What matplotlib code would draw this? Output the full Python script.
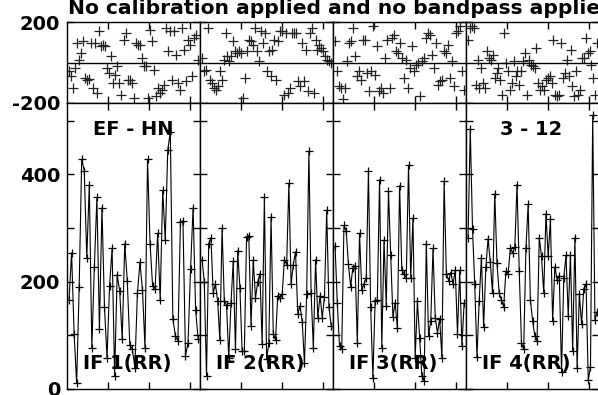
import numpy as np
import matplotlib
matplotlib.use("Agg")
import matplotlib.pyplot as plt

# textos
title = "No calibration applied and no bandpass applied"
baseline = "EF - HN"
time_range = "3 - 12"
if_labels = ["IF 1(RR)", "IF 2(RR)", "IF 3(RR)", "IF 4(RR)"]

# amplitud por canal
amp_if1 = [166, 254, 103, 11, 191, 428, 407, 245, 381, 77, 228, 357, 112, 338, 152, 58,
           192, 262, 24, 213, 183, 93, 271, 202, 82, 74, 40, 178, 236, 185, 77, 428,
           271, 192, 187, 290, 166, 370, 277, 446, 479, 131, 99, 90, 311, 313, 62, 86,
           224, 338, 147, 93]
amp_if2 = [241, 200, 24, 271, 282, 179, 196, 164, 91, 300, 164, 157, 58, 160, 238, 74,
           258, 189, 70, 70, 284, 286, 118, 241, 170, 199, 215, 84, 357, 56, 86, 320,
           103, 91, 174, 170, 177, 241, 232, 383, 196, 232, 256, 140, 155, 125, 49, 177,
           443, 178, 77, 241, 133, 174, 133, 172, 333, 153, 118]
amp_if3 = [267, 161, 80, 74, 305, 295, 233, 191, 226, 230, 86, 290, 185, 196, 207, 406,
           152, 21, 164, 166, 390, 77, 278, 155, 369, 250, 135, 161, 113, 379, 221, 215,
           207, 417, 207, 318, 58, 164, 95, 24, 15, 271, 99, 127, 262, 133, 105, 131,
           58, 387, 215, 202, 217, 196, 221, 103, 221, 80, 161]
amp_if4 = [282, 484, 299, 196, 60, 164, 245, 116, 228, 280, 236, 178, 364, 234, 178, 166,
           153, 219, 215, 262, 254, 264, 381, 219, 86, 74, 262, 344, 166, 127, 99, 90,
           282, 247, 178, 327, 247, 316, 127, 228, 204, 211, 32, 207, 249, 136, 250, 71,
           282, 39, 177, 121, 187, 196, 16, 41, 510, 129, 144]

# fase por canal en grados
phase_if1 = [-44, -68, -126, -27, 96, 14, 47, 105, -77, -85, -80, 96, -126, 96, -151, 154,
             80, 88, 80, -27, -52, 31, -101, -60, -19, -101, -159, 113, 146, -85, -85, -101,
             -175, 96, 88, 88, 22, -19, -19, -175, 162, 105, -36, -167, -126, -151, -134, -110,
             170, 55, 154, -85, 154, 39, -101, -134, 170, 63, -93, 113, 88, -68, 121, 137, 14]
phase_if2 = [22, -44, -36, 170, -85, -101, -126, -134, -118, -44, -85, 14, 146, 31, 6, 31,
             105, 55, 47, 55, 47, -175, -77, 55, 113, 105, 88, 170, 55, 6, 154, 96,
             146, -44, 55, -68, 63, 113, -85, 105, 154, 154, -159, 146, -151, -126, 146, 146,
             146, -93, -118, 96, -93, 63, -142, 146, 170, -151, 113, 63, 88, 72, 55, 31, 14, 6, -2]
phase_if3 = [105, -44, -118, -126, -178, -126, 6, 96, 105, 170, 31, -68, -44, -85, 113, 113,
             -52, -142, -44, 179, -60, 80, -142, -126, -151, 22, 113, -126, 121, 137, 55, 47,
             96, 22, -77, 14, -126, -27, 80, -44, -11, -2, -167, 6, 22, 121, 146, 137,
             39, -27, 96, -110, -93, -85, 55, 47, 88, -77, 6, -118, 146, 154, 178, -44, -134]
phase_if4 = [113, 170, 179, 170, -110, 14, -126, -27, -101, -126, 55, 22, 14, 39, -77, -52,
             -27, -85, -159, 146, -2, -44, -134, -101, 6, -68, -44, -110, -44, 6, 47, -159,
             14, -11, -19, -27, 72, -101, -134, -118, -134, -85, -77, -68, -101, 113, -159, -167,
             -159, 96, -77, -52, 14, -68, 63, -118, -167, -44, -159, -134, 22, 22, 121, 47,
             55, -11, -77, -159, 96]

amps = [amp_if1, amp_if2, amp_if3, amp_if4]
phases = [phase_if1, phase_if2, phase_if3, phase_if4]

plt.rcParams['font.family'] = 'DejaVu Sans'
plt.rcParams['font.weight'] = 'bold'
plt.rcParams['font.size'] = 14

fig = plt.figure(figsize=(5.98, 3.95), dpi=100)

W, H = 598.0, 395.0
x0 = 67 / W
pw = 133 / W
tick_kw = dict(direction='in', length=5, width=1, color='black',
               top=True, right=True, labelbottom=False)

for i in range(4):
    xs_a = np.linspace(1, 64, len(amps[i]))
    xs_p = np.linspace(1, 64, len(phases[i]))

    # panel de fase
    axp = fig.add_axes([x0 + i * pw, (H - 103) / H, pw, 81 / H])
    axp.plot(xs_p, phases[i], ls='none', marker='+', ms=7, mew=0.9, color='#222222')
    axp.axhline(0, color='black', lw=1)
    axp.set_xlim(0, 64.9)
    axp.set_ylim(-200, 200)
    axp.set_xticks([20, 40, 60])
    axp.set_yticks([-200, 200])
    axp.tick_params(**tick_kw)
    if i == 0:
        axp.set_yticklabels(['-200', '200'])
        axp.tick_params(axis='y', pad=5)
    else:
        axp.tick_params(labelleft=False)

    # panel de amplitud
    axa = fig.add_axes([x0 + i * pw, 6 / H, pw, 286 / H])
    axa.plot(xs_a, amps[i], color='black', lw=0.8, marker='+', ms=6, mew=0.9)
    axa.set_xlim(0, 64.9)
    axa.set_ylim(0, 533)
    axa.set_xticks([20, 40, 60])
    axa.set_yticks([0, 100, 200, 300, 400, 500])
    axa.tick_params(**tick_kw)
    if i == 0:
        axa.set_yticklabels(['0', '', '200', '', '400', ''])
        axa.tick_params(axis='y', pad=5)
    else:
        axa.tick_params(labelleft=False)

    for ax in (axp, axa):
        for s in ax.spines.values():
            s.set_linewidth(1)

    axa.text(0.45, 0.09, if_labels[i], transform=axa.transAxes,
             ha='center', va='center', fontweight='bold')
    if i == 0:
        axa.text(0.5, 0.906, baseline, transform=axa.transAxes,
                 ha='center', va='center', fontweight='bold')
    if i == 3:
        axa.text(0.49, 0.906, time_range, transform=axa.transAxes,
                 ha='center', va='center', fontweight='bold')

fig.text(68 / W, 1 - 13.5 / H, title, ha='left', va='baseline', fontweight='bold',
         fontsize=14.6)

fig.savefig('out.png', dpi=100)
